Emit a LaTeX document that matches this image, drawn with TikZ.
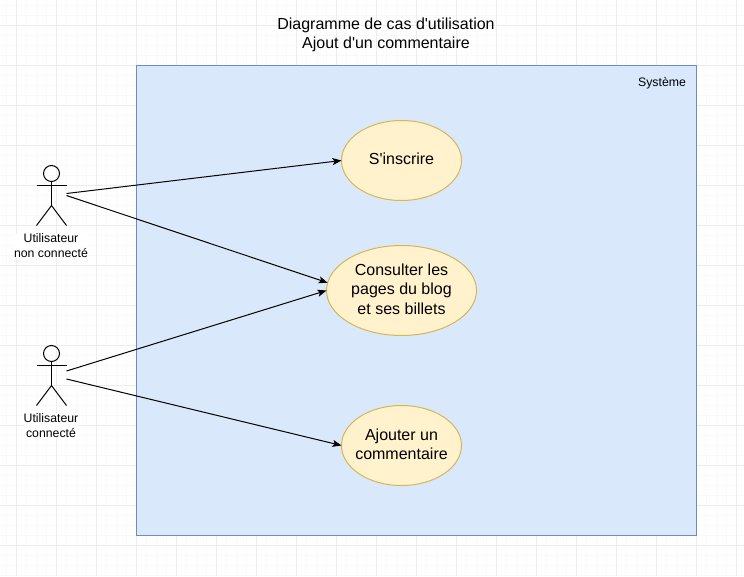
\documentclass[tikz,border=0pt]{standalone}
\usepackage{fontspec}
\setmainfont{Liberation Sans}[Ligatures=TeXOff]
\usetikzlibrary{arrows.meta,shapes.geometric}
\definecolor{gridmajor}{HTML}{EDEDED}
\definecolor{gridminor}{HTML}{F9F9F9}
\definecolor{sysfill}{HTML}{DAE8FC}
\definecolor{sysline}{HTML}{6C8EBF}
\definecolor{casefill}{HTML}{FFF2CC}
\definecolor{caseline}{HTML}{D6B656}
\tikzset{
  every node/.style={inner sep=0pt,outer sep=0pt},
  casenode/.style={ellipse,draw=caseline,fill=casefill,line width=1pt,inner sep=-12pt},
  casetext/.style={align=center,font=\fontsize{16}{19.3}\selectfont},
  smalltext/.style={align=center,font=\fontsize{12.3}{15}\selectfont},
  titletext/.style={align=center,font=\fontsize{16}{19}\selectfont},
  actorbox/.style={rectangle,minimum width=30pt,minimum height=60pt},
  actorline/.style={line width=1pt,draw=black},
  link/.style={line width=1pt,draw=black,-{Stealth[length=9pt,width=7pt,inset=2pt]}},
}
\begin{document}
\begin{tikzpicture}[x=1pt,y=-1pt]
\useasboundingbox (0,0) rectangle (744,576);
\fill[white] (0,0) rectangle (744,576);
% grid
\foreach \x in {6,16,...,736} \draw[gridminor,line width=1pt] (\x+0.5,0) -- (\x+0.5,576);
\foreach \y in {5,15,...,575} \draw[gridminor,line width=1pt] (0,\y+0.5) -- (744,\y+0.5);
\foreach \x in {16,56,...,736} \draw[gridmajor,line width=1pt] (\x+0.5,0) -- (\x+0.5,576);
\foreach \y in {25,65,...,565} \draw[gridmajor,line width=1pt] (0,\y+0.5) -- (744,\y+0.5);
% title
\node[titletext] (title) at (386,35) {Diagramme de cas d'utilisation\\Ajout d'un commentaire};
% system
\node[rectangle,draw=sysline,fill=sysfill,line width=1pt,minimum width=560pt,minimum height=470pt,anchor=north west] (sys) at (136.5,65.5) {};
\node[smalltext] (syslabel) at (662,83) {Système};
% use cases
\node[casenode,minimum width=120pt,minimum height=80pt] (inscrire) at (401.5,160.5) {};
\node[casenode,minimum width=150pt,minimum height=90pt] (consulter) at (401.5,290.5) {};
\node[casenode,minimum width=120pt,minimum height=80pt] (ajouter) at (401.5,445.5) {};
\node[casetext] (t1) at (401.5,159) {S'inscrire};
\node[casetext] (t2) at (401.5,289) {Consulter les\\pages du blog\\et ses billets};
\node[casetext] (t3) at (401.5,444) {Ajouter un\\commentaire};
% actors
\node[actorbox] (act1) at (51.5,195.5) {};
\node[actorbox] (act2) at (51.5,375.5) {};
\foreach \a in {act1,act2}{
  \draw[actorline] ([yshift=-8pt]\a.north) circle[radius=8pt];
  \draw[actorline] ([yshift=-16pt]\a.north) -- ([yshift=-40pt]\a.north);
  \draw[actorline] ([yshift=-20pt]\a.north west) -- ([yshift=-20pt]\a.north east);
  \draw[actorline] (\a.south west) -- ([yshift=-40pt]\a.north) -- (\a.south east);
}
\node[smalltext,fill=white] (lab1) at (51,245.8) {Utilisateur\\non connecté};
\node[smalltext,fill=white] (lab2) at (51,425.5) {Utilisateur\\connecté};
% connectors
\coordinate (s1) at ([yshift=2pt]act1.east);
\coordinate (s2) at (act1.east);
\coordinate (s3) at ([yshift=4.5pt]act2.east);
\coordinate (s4) at ([yshift=-3.5pt]act2.east);
\draw[link] (s1) -- (inscrire.west);
\draw[link] (s2) -- (consulter.174);
\draw[link] (s3) -- (consulter.west);
\draw[link] (s4) -- (ajouter.west);
\end{tikzpicture}
\end{document}
